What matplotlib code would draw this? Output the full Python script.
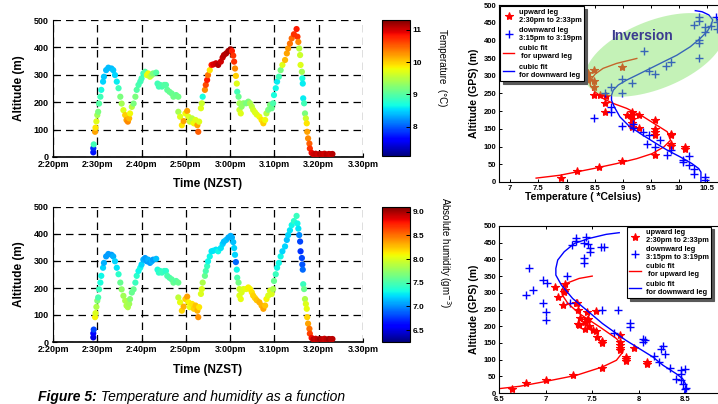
import numpy as np
import matplotlib
matplotlib.use('Agg')
from matplotlib import pyplot as plt
from matplotlib.patches import Polygon

plt.rcParams['font.family'] = ['Liberation Sans', 'DejaVu Sans']

# ---- flight track (minutes after 2:20pm, altitude m, temperature C, abs. humidity g/m3)
minutes = [9.1, 9.1, 9.2, 9.5, 9.6, 9.8, 10.0, 10.2, 10.4, 10.7,
           10.9, 11.3, 11.5, 12.0, 12.5, 13.2, 13.6, 14.0, 14.4, 14.8,
           15.2, 15.5, 15.9, 16.3, 16.6, 16.9, 17.2, 17.4, 17.8, 18.2,
           18.6, 18.9, 19.3, 19.7, 20.0, 20.4, 20.8, 21.2, 21.5, 21.9,
           22.3, 22.6, 23.3, 23.6, 23.9, 24.2, 24.6, 25.1, 25.5, 25.8,
           26.3, 26.8, 27.2, 27.8, 28.3, 28.3, 28.7, 29.1, 29.5, 29.9,
           30.3, 30.6, 30.9, 31.4, 31.8, 32.2, 32.6, 32.8, 33.0,
           33.4, 33.6, 33.8, 34.3, 34.5, 34.8, 35.0, 35.4, 35.8, 36.2, 36.8,
           37.3, 37.9, 38.3, 38.6, 39.1, 39.6, 40.1, 40.4, 40.7, 40.9,
           41.1, 41.3, 41.5, 41.6, 41.9, 42.1, 42.1, 42.4, 42.6, 43.0,
           43.6, 44.1, 44.5, 44.9, 45.2, 45.6, 46.0, 46.6, 47.1, 47.5,
           47.9, 48.2, 48.6, 49.0, 49.4, 49.7, 49.9, 50.3, 50.6, 51.0,
           51.4, 51.8, 52.4, 52.8, 53.1, 53.5, 53.9, 54.4, 55.0, 55.2,
           55.4, 55.6, 55.8, 55.9, 56.2, 56.3, 56.4, 56.5, 56.7, 56.9,
           57.1, 57.3, 57.4, 57.6, 57.9, 58.0, 58.4,
           58.8, 59.3, 59.8, 60.3, 60.8, 61.3, 61.8, 62.3, 62.8, 63.1]
altitude = [17, 32, 46, 92, 107, 130, 153, 165, 195, 220,
            245, 275, 293, 317, 326, 323, 317, 299, 275, 251,
            220, 195, 171, 153, 135, 129, 141, 159, 183, 195,
            220, 245, 263, 275, 287, 305, 311, 299, 305, 293,
            299, 305, 308, 268, 257, 263, 257, 263, 263, 245,
            238, 232, 220, 226, 220, 165, 147, 116, 131, 159,
            168, 147, 129, 141, 123, 135, 116, 92, 129,
            178, 196, 220, 245, 263, 281, 299, 317, 336, 338, 342,
            336, 348, 363, 372, 378, 387, 393, 387, 370, 348,
            323, 296, 268, 238, 220, 196, 172, 159, 184, 196,
            196, 202, 196, 184, 172, 163, 155, 147, 135, 123,
            135, 159, 172, 190, 178, 196, 226, 251, 275, 293,
            317, 336, 354, 378, 396, 414, 433, 448, 467, 439,
            420, 396, 372, 336, 311, 287, 268, 214, 196, 159,
            141, 123, 92, 68, 49, 31, 15,
            10, 12, 9, 11, 10, 12, 9, 11, 10, 11]
temperature = [7.7, 7.8, 8.9, 10.2, 9.9, 9.7, 9.4, 9.2, 9.0, 8.9,
               8.7, 8.5, 8.45, 8.4, 8.4, 8.4, 8.45, 8.5, 8.6, 8.9,
               9.2, 9.4, 9.7, 10.0, 10.2, 10.3, 10.1, 9.8, 9.5, 9.2,
               9.2, 9.0, 8.95, 8.9, 8.9, 8.85, 9.0, 9.7, 9.8, 9.6,
               9.4, 9.2, 9.0, 8.9, 8.9, 8.95, 8.95, 9.0, 9.0, 9.05,
               9.1, 9.1, 9.15, 9.1, 9.15, 9.4, 9.7, 9.9, 10.2, 9.8,
               10.2, 9.7, 9.6, 9.5, 9.8, 9.7, 10.2, 10.5, 9.7,
               9.7, 9.6, 8.7, 10.3, 10.6, 10.8, 10.4, 9.9, 10.8, 10.95, 11.0,
               11.1, 11.0, 11.05, 11.1, 11.1, 11.15, 11.2, 10.8, 10.7, 10.7,
               10.3, 10.0, 9.7, 8.9, 9.1, 9.4, 9.6, 9.7, 9.3, 9.3,
               9.2, 9.2, 9.4, 9.5, 9.6, 9.7, 9.7, 9.8, 9.9, 10.0,
               9.8, 9.5, 9.2, 9.2, 9.1, 8.95, 8.7, 8.65, 8.6, 8.9,
               9.2, 9.7, 10.1, 10.2, 10.25, 10.4, 10.45, 10.7, 10.8, 10.7,
               10.3, 9.5, 9.6, 9.7, 9.4, 8.7, 8.6, 8.6, 8.9, 9.2,
               9.6, 9.9, 10.2, 10.3, 10.5, 10.7, 10.9,
               11.0, 11.05, 11.0, 11.1, 11.05, 11.0, 11.1, 11.05, 11.0, 11.1]
humidity = [6.5, 6.6, 6.8, 8.1, 8.0, 7.85, 7.7, 7.5, 7.45, 7.35,
            7.3, 7.2, 7.1, 7.05, 7.05, 7.05, 7.1, 7.2, 7.25, 7.4,
            7.6, 7.75, 7.8, 7.85, 7.85, 7.85, 7.8, 7.7, 7.6, 7.6,
            7.45, 7.4, 7.3, 7.3, 7.2, 7.1, 7.05, 7.05, 7.1, 7.05,
            7.1, 7.05, 7.15, 7.35, 7.4, 7.4, 7.45, 7.45, 7.4, 7.5,
            7.5, 7.55, 7.6, 7.55, 7.6, 7.9, 8.05, 8.2, 8.3, 8.2,
            8.35, 8.1, 8.05, 8.15, 8.2, 8.25, 8.3, 8.4, 8.15,
            8.0, 8.0, 7.85, 7.6, 7.5, 7.45, 7.3, 7.3, 7.25, 7.25, 7.25,
            7.3, 7.25, 7.2, 7.15, 7.15, 7.1, 7.1, 7.1, 7.15, 7.2,
            7.2, 6.9, 7.3, 7.5, 7.65, 7.95, 8.0, 8.05, 8.0, 8.0,
            8.05, 8.1, 8.1, 8.15, 8.2, 8.2, 8.25, 8.3, 8.3, 8.35,
            8.25, 8.1, 8.0, 8.0, 8.0, 7.85, 7.6, 7.45, 7.3, 7.3,
            7.3, 7.2, 7.2, 7.15, 7.2, 7.25, 7.3, 7.4, 7.45, 7.3,
            7.25, 7.0, 6.8, 6.75, 6.8, 6.85, 6.9, 7.45, 7.6, 7.85,
            8.0, 8.05, 8.2, 8.35, 8.5, 8.65, 8.8,
            8.95, 8.9, 8.95, 9.0, 8.95, 8.9, 8.95, 9.0, 8.95, 8.95]

time_ticks = [0, 10, 20, 30, 40, 50, 60, 70]
time_labels = ['2:20pm', '2:30pm', '2:40pm', '2:50pm', '3:00pm', '3.10pm', '3.20pm', '3.30pm']

# ---- profiles: upward leg (2:30-2:33) and downward leg (3:15-3:19)
up_temp = [7.9, 8.19, 8.58, 8.99, 9.58, 10.1, 10.1, 9.86, 9.86, 9.86, 9.86, 9.58, 9.58, 9.58,
           9.58, 9.29, 9.16, 9.16, 9.16, 9.16, 9.28, 9.07, 9.16, 8.68, 8.68, 8.99, 8.7, 8.6,
           8.49, 8.49, 8.49, 8.49, 8.39, 8.39, 8.39]
up_temp_alt = [11, 30, 42, 58, 75, 99, 92, 107, 102, 137, 132, 142, 132, 151,
               175, 153, 198, 189, 179, 167, 189, 189, 156, 198, 224, 325, 242, 247,
               247, 269, 285, 316, 307, 298, 288]
down_temp = [10.47, 10.47, 10.26, 10.26, 10.17, 10.07, 10.07, 10.17, 9.79, 9.58, 9.86, 9.67,
             9.43, 9.47, 9.36, 9.18, 9.18, 8.98, 8.48, 8.79, 8.79, 8.79, 8.68, 8.99, 8.99,
             9.17, 9.47, 9.58, 9.77, 9.86, 9.37, 10.36, 10.36, 10.36, 10.47, 10.47, 10.26,
             10.36, 10.36, 10.57, 10.67, 10.67, 10.65]
down_temp_alt = [14, 7, 24, 38, 47, 63, 57, 73, 75, 99, 90, 118,
                 108, 134, 142, 153, 165, 158, 182, 198, 212, 269, 250, 250, 292,
                 281, 314, 304, 328, 338, 371, 349, 394, 402, 425, 437, 443,
                 456, 467, 442, 453, 431, 467]
# cubic fit lines
up_temp_fit = [7.46, 7.88, 8.48, 8.89, 9.25, 9.52, 9.73, 9.85, 9.79, 9.61, 9.37, 9.07,
               8.83, 8.65, 8.51, 8.42, 8.43, 8.51, 8.65, 8.89, 9.25]
up_temp_fit_alt = [11, 19, 38, 52, 66, 80, 99, 118, 142, 160, 184, 208,
                   222, 236, 255, 274, 288, 305, 321, 335, 349]
down_temp_fit = [10.39, 10.39, 10.35, 10.23, 10.02, 9.79, 9.55, 9.31, 9.1, 8.95, 8.85, 8.8,
                 8.8, 8.83, 8.92, 9.07, 9.25, 9.49, 9.73, 9.96, 10.2, 10.38, 10.5, 10.57,
                 10.6, 10.53, 10.41, 10.29]
down_temp_fit_alt = [0, 28, 38, 52, 71, 90, 113, 137, 160, 184, 212, 231,
                     245, 259, 274, 288, 302, 321, 340, 358, 382, 406, 425, 443,
                     458, 472, 481, 484]

up_hum = [6.64, 6.79, 7.0, 7.29, 7.61, 7.86, 7.86, 7.86, 7.8, 7.8, 7.8, 7.8, 7.8, 7.95,
          8.09, 8.09, 7.61, 7.61, 7.55, 7.54, 7.51, 7.47, 7.42, 7.36, 7.35, 7.37, 7.44,
          7.45, 7.42, 7.44, 7.35, 7.54, 7.33, 7.34, 7.19, 7.13, 7.21, 7.2, 7.1, 7.21]
up_hum_alt = [13, 30, 40, 55, 75, 108, 101, 96, 135, 143, 153, 173, 130, 136,
              93, 86, 150, 155, 168, 185, 188, 200, 191, 203, 208, 225, 218,
              223, 213, 243, 250, 245, 268, 270, 263, 286, 308, 303, 316, 326]
down_hum = [8.5, 8.51, 8.47, 8.45, 8.45, 8.45, 8.5, 8.4, 8.33, 8.22, 8.28, 8.26, 8.24, 8.16,
            8.07, 8.04, 8.05, 7.78, 7.91, 7.91, 7.73, 7.61, 7.26, 7.23, 7.0, 7.0, 6.97, 6.97,
            7.01, 6.86, 6.79, 6.82, 7.28, 7.33, 7.33, 7.43, 7.41, 7.45, 7.48, 7.48, 7.41,
            7.41, 7.59, 7.63]
down_hum_alt = [11, 15, 28, 40, 58, 68, 73, 43, 76, 93, 118, 140, 133, 111,
                158, 163, 153, 248, 211, 198, 180, 250, 268, 350, 220, 243, 268, 338,
                328, 308, 293, 373, 443, 463, 456, 468, 450, 446, 433, 423, 403,
                388, 438, 438]
up_hum_fit = [6.5, 6.72, 6.97, 7.33, 7.61, 7.76, 7.83, 7.82, 7.76, 7.58, 7.36, 7.24,
              7.18, 7.17, 7.22, 7.36, 7.5]
up_hum_fit_alt = [13, 20, 33, 53, 78, 98, 123, 143, 163, 198, 238, 268,
                  293, 308, 328, 343, 350]
down_hum_fit = [8.49, 8.51, 8.47, 8.4, 8.26, 8.15, 7.86, 7.61, 7.44, 7.29, 7.17, 7.11,
                7.11, 7.13, 7.2, 7.31, 7.47, 7.65, 7.79]
down_hum_fit_alt = [0, 23, 43, 58, 83, 108, 158, 208, 248, 283, 323, 353,
                    373, 398, 423, 448, 463, 475, 480]

W, H = 718, 404
fig = plt.figure(figsize=(W / 100, H / 100), dpi=100)


def box(l, t, w, h):
    return [l / W, 1 - (t + h) / H, w / W, h / H]


bold = {'fontweight': 'bold'}


def time_plot(rect, crect, values, vmin, vmax, cticks):
    ax = fig.add_axes(box(*rect))
    sc = ax.scatter(minutes, altitude, c=values, cmap='jet', vmin=vmin, vmax=vmax,
                    s=20, edgecolors='none', zorder=3)
    ax.set_xlim(0, 70)
    ax.set_ylim(0, 500)
    ax.set_xticks(time_ticks)
    ax.set_xticklabels(time_labels, fontsize=6.5, **bold)
    ax.set_yticks([0, 100, 200, 300, 400, 500])
    ax.set_yticklabels(['0', '100', '200', '300', '400', '500'], fontsize=6.5, **bold)
    ax.tick_params(direction='in', length=3, width=0.8, pad=2)
    ax.tick_params(axis='y', pad=3)
    ax.grid(True, color='black', linestyle=(0, (6, 4)), linewidth=0.9)
    ax.spines['top'].set_visible(False)
    ax.spines['right'].set_visible(False)
    ax.spines['bottom'].set_linewidth(1.2)
    ax.set_ylabel('Altitude (m)', fontsize=8.5, labelpad=6, **bold)
    ax.set_xlabel('Time (NZST)', fontsize=8.5, labelpad=7, **bold)
    cax = fig.add_axes(box(*crect))
    cb = fig.colorbar(sc, cax=cax, ticks=cticks)
    cb.ax.tick_params(labelsize=6, direction='in', length=3, width=0.7, pad=2)
    for t in cb.ax.get_yticklabels():
        t.set_fontweight('bold')
    cb.outline.set_linewidth(0.8)
    return ax


ax1 = time_plot((53, 20, 310, 137), (382, 20, 28, 136), temperature, 7.1, 11.3, [8, 9, 10, 11])
ax2 = time_plot((53, 207, 310, 135), (382, 207, 28, 135), humidity, 6.25, 9.1,
                [6.5, 7, 7.5, 8, 8.5, 9])
fig.text(442 / W, 1 - 68 / H, 'Temperature  (\u00b0C)', rotation=270, fontsize=7,
         ha='center', va='center')
fig.text(445 / W, 1 - 253 / H, 'Absolute humidity (gm$^{-3}$)', rotation=270, fontsize=7,
         ha='center', va='center')

t1 = fig.text(38 / W, 1 - 397 / H, 'Figure 5:', fontsize=10, fontweight='bold',
              fontstyle='italic', va='center')
ax2.annotate(' Temperature and humidity as a function', xy=(1, 0.5), xycoords=t1,
             va='center', fontsize=10, fontstyle='italic', annotation_clip=False)


def profile_plot(rect, xlim, xticks, xlabels, up_x, up_y, dn_x, dn_y,
                 upf_x, upf_y, dnf_x, dnf_y, leg_kw):
    ax = fig.add_axes(box(*rect))
    h1, = ax.plot(up_x, up_y, '*', color='red', markersize=6, markeredgewidth=0.8,
                  label='upward leg\n2:30pm to 2:33pm')
    h2, = ax.plot(dn_x, dn_y, '+', color='blue', markersize=6, markeredgewidth=1,
                  label='downward leg\n3:15pm to 3:19pm')
    h3, = ax.plot(upf_x, upf_y, '-', color='red', linewidth=1,
                  label='cubic fit\n for upward leg')
    h4, = ax.plot(dnf_x, dnf_y, '-', color='blue', linewidth=1,
                  label='cubic fit\nfor downward leg')
    ax.set_xlim(*xlim)
    ax.set_ylim(0, 500)
    ax.set_xticks(xticks)
    ax.set_xticklabels(xlabels, fontsize=5.5, **bold)
    ax.set_yticks(range(0, 501, 50))
    ax.set_yticklabels([str(v) for v in range(0, 501, 50)], fontsize=5.5, **bold)
    ax.tick_params(direction='in', length=2.5, width=0.7, pad=2, top=True, right=True)
    ax.set_ylabel('Altitude (GPS) (m)', fontsize=7.5, labelpad=3, **bold)
    leg = ax.legend(handles=[h1, h2, h3, h4], frameon=True,
                    fancybox=False, shadow={'color': '0.35', 'alpha': 1}, framealpha=1,
                    edgecolor='black', handlelength=1.6, handletextpad=0.6,
                    borderpad=0.35, prop={'size': 5.3, 'weight': 'bold'}, **leg_kw)
    leg.get_frame().set_linewidth(0.8)
    return ax


ax3 = profile_plot((499, 5, 225, 177), (6.8, 10.8), [7, 7.5, 8, 8.5, 9, 9.5, 10, 10.5],
                   ['7', '7.5', '8', '8.5', '9', '9.5', '10', '10.5'],
                   up_temp, up_temp_alt, down_temp, down_temp_alt,
                   up_temp_fit, up_temp_fit_alt, down_temp_fit, down_temp_fit_alt,
                   {'loc': 'upper left', 'borderaxespad': 0.15, 'labelspacing': 0.45})
fig.text(583 / W, 1 - 197 / H, 'Temperature ( *Celsius)', fontsize=7.5, ha='center',
         va='center', **bold)

# inversion layer shading
tt = np.linspace(0, 2 * np.pi, 100)
ell_x = 9.57 + 1.22 * np.cos(tt) + 0.224 * np.sin(tt)
ell_y = 359 + 77.7 * np.cos(tt) - 89 * np.sin(tt)
ax3.add_patch(Polygon(np.column_stack([ell_x, ell_y]), closed=True,
                      facecolor=(0.49, 0.89, 0.38), alpha=0.45, edgecolor='none', zorder=4))
ax3.text(9.34, 412, 'Inversion', fontsize=10, color='#3b3b8f', ha='center', va='center',
         zorder=5, **bold)

ax4 = profile_plot((499, 226, 233, 167), (6.5, 9.0), [6.5, 7, 7.5, 8, 8.5, 9],
                   ['6.5', '7', '7.5', '8', '8.5', '9'],
                   up_hum, up_hum_alt, down_hum, down_hum_alt,
                   up_hum_fit, up_hum_fit_alt, down_hum_fit, down_hum_fit_alt,
                   {'loc': 'upper left', 'bbox_to_anchor': (0.549, 0.997),
                    'borderaxespad': 0, 'labelspacing': 0.3})
ax4.set_xlabel('Absolute humidity (gm$^{-3}$)', fontsize=7.5, labelpad=6, **bold)

fig.savefig('out.png', dpi=100)
